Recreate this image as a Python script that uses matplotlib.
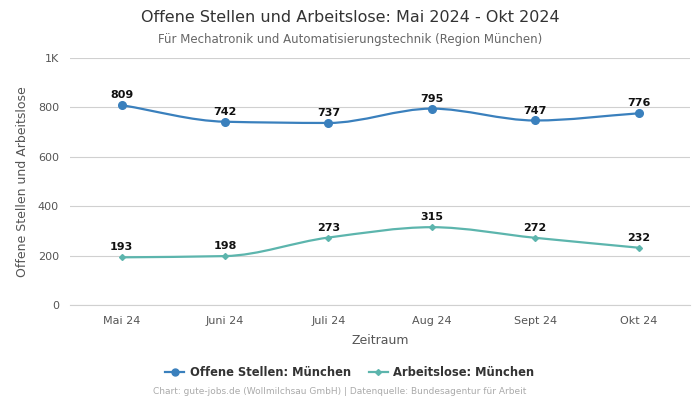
import matplotlib
matplotlib.use("Agg")
import matplotlib.pyplot as plt
import numpy as np
from matplotlib.path import Path
from matplotlib.patches import PathPatch
from matplotlib.lines import Line2D

categories = ["Mai 24", "Juni 24", "Juli 24", "Aug 24", "Sept 24", "Okt 24"]
offene_stellen = [809, 742, 737, 795, 747, 776]
arbeitslose = [193, 198, 273, 315, 272, 232]
y_ticks = [0, 200, 400, 600, 800, 1000]
y_ticklabels = ["0", "200", "400", "600", "800", "1K"]

c_blue = "#3a80bd"
c_teal = "#5cb5ad"

def monotone_path(xs, ys):
    xs = np.asarray(xs, float); ys = np.asarray(ys, float)
    n = len(xs)
    h = np.diff(xs); d = np.diff(ys) / h
    m = np.zeros(n)
    m[0] = d[0]; m[-1] = d[-1]
    for i in range(1, n - 1):
        if d[i - 1] * d[i] <= 0:
            m[i] = 0
        else:
            w1 = 2 * h[i] + h[i - 1]; w2 = h[i] + 2 * h[i - 1]
            m[i] = (w1 + w2) / (w1 / d[i - 1] + w2 / d[i])
    verts = [(xs[0], ys[0])]; codes = [Path.MOVETO]
    for i in range(n - 1):
        dx = h[i] / 3
        verts += [(xs[i] + dx, ys[i] + m[i] * dx), (xs[i + 1] - dx, ys[i + 1] - m[i + 1] * dx), (xs[i + 1], ys[i + 1])]
        codes += [Path.CURVE4] * 3
    return Path(verts, codes)

fig = plt.figure(figsize=(7, 4), dpi=100)
ax = fig.add_axes([0.1, 0.2375, 0.886, 0.6175])
x = np.arange(len(categories))

for vals, col, mk, ms in [(offene_stellen, c_blue, "o", 5.5), (arbeitslose, c_teal, "D", 3.0)]:
    ax.add_patch(PathPatch(monotone_path(x, vals), facecolor="none", edgecolor=col, lw=1.6, zorder=3))
    ax.plot(x, vals, linestyle="none", marker=mk, color=col, markersize=ms, zorder=4)
    for xi, v in zip(x, vals):
        ax.annotate(str(v), (xi, v), xytext=(0, 3.5), textcoords="offset points",
                    ha="center", va="bottom", fontsize=8, fontweight="bold", color="#111111")

ax.set_xlim(-0.5, len(categories) - 0.5)
ax.set_ylim(0, 1000)
ax.set_yticks(y_ticks)
ax.set_yticklabels(y_ticklabels)
ax.set_xticks(x)
ax.set_xticklabels(categories)
ax.grid(axis="y", color="#d0d0d0", lw=0.8)
ax.set_axisbelow(True)
for s in ["top", "right", "left"]:
    ax.spines[s].set_visible(False)
ax.spines["bottom"].set_color("#d0d0d0")
ax.tick_params(axis="both", length=0, labelsize=8, colors="#555555", pad=8)
ax.set_xlabel("Zeitraum", fontsize=9, color="#555555", labelpad=6)
ax.set_ylabel("Offene Stellen und Arbeitslose", fontsize=9, color="#555555", labelpad=6)

fig.text(0.5, 1 - 17 / 400, "Offene Stellen und Arbeitslose: Mai 2024 - Okt 2024", ha="center", va="center", fontsize=11.5, color="#333333")
fig.text(0.5, 1 - 39 / 400, "Für Mechatronik und Automatisierungstechnik (Region München)", ha="center", va="center", fontsize=8.5, color="#666666")

handles = [Line2D([0], [0], color=c_blue, marker="o", markersize=5, lw=1.6),
           Line2D([0], [0], color=c_teal, marker="D", markersize=3.0, lw=1.6)]
leg = fig.legend(handles, ["Offene Stellen: München", "Arbeitslose: München"], loc="center",
                 bbox_to_anchor=(0.5, 1 - 373 / 400), ncol=2, frameon=False,
                 prop={"weight": "bold", "size": 8.3}, handlelength=1.6, columnspacing=1.6, handletextpad=0.5)
for t in leg.get_texts():
    t.set_color("#333333")
fig.text(340 / 700, 1 - 392 / 400, "Chart: gute-jobs.de (Wollmilchsau GmbH) | Datenquelle: Bundesagentur für Arbeit",
         ha="center", va="center", fontsize=6.5, color="#aaaaaa")

fig.savefig("out.png", dpi=100)
